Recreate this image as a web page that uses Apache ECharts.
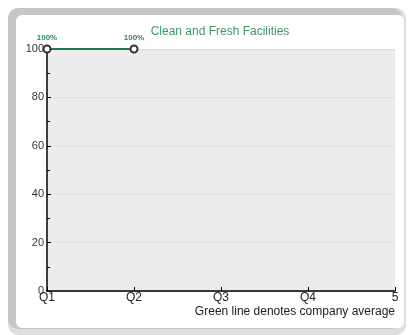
<!DOCTYPE html>
<html>
<head>
<meta charset="utf-8">
<script src="https://cdn.jsdelivr.net/npm/echarts@6/dist/echarts.min.js"></script>
<style>
  html, body { margin: 0; padding: 0; background: #ffffff; }
  #chart { width: 409px; height: 335px; }
</style>
</head>
<body>
<div id="chart"></div>
<script>
// Quarter labels along the x axis
const quarters = ['Q1', 'Q2', 'Q3', 'Q4', '5'];
// Company average score per quarter (percent)
const averageScores = [100, 100];
// Chart text
const chartTitle = 'Clean and Fresh Facilities';
const footnote = 'Green line denotes company average';

const chart = echarts.init(document.getElementById('chart'), null, { renderer: 'canvas' });

chart.setOption({
  animation: false,
  backgroundColor: '#ffffff',
  title: {
    text: chartTitle,
    left: 215,
    top: 21,
    textAlign: 'center',
    textStyle: { fontFamily: 'Liberation Sans, Arial', fontSize: 12, fontWeight: 'normal', color: '#449466' }
  },
  graphic: [
    // panel frame: heavier shade on the top/left, light edge on the right/bottom
    {
      type: 'rect', z: -10, silent: true,
      shape: { x: 8, y: 8, width: 398, height: 327, r: 10 },
      style: { fill: '#dedede' }
    },
    {
      type: 'rect', z: -9, silent: true,
      shape: { x: 8, y: 8, width: 394, height: 321, r: 10 },
      style: { fill: '#c6c6c6' }
    },
    {
      type: 'rect', z: -8, silent: true,
      shape: { x: 16, y: 15, width: 388, height: 313, r: 6 },
      style: { fill: '#ffffff' }
    },
    {
      type: 'text', silent: true,
      style: {
        x: 395, y: 306, text: footnote, align: 'right', verticalAlign: 'top',
        fontFamily: 'Liberation Sans, Arial', fontSize: 12, fill: '#222222'
      }
    }
  ],
  grid: {
    left: 47, right: 14, top: 49, bottom: 44,
    show: true, backgroundColor: '#ececec', borderWidth: 0
  },
  xAxis: {
    type: 'category',
    data: quarters,
    boundaryGap: false,
    axisLine: { lineStyle: { color: '#000000', width: 1.5 } },
    axisTick: { inside: true, length: 4, lineStyle: { color: '#000000' } },
    axisLabel: { margin: 1, fontFamily: 'Liberation Sans, Arial', fontSize: 12, color: '#222222' },
    splitLine: { show: false }
  },
  yAxis: {
    type: 'value',
    min: 0, max: 100, interval: 20,
    axisLine: { show: true, lineStyle: { color: '#000000', width: 1.5 } },
    axisTick: { show: true, inside: true, length: 4, lineStyle: { color: '#000000' } },
    minorTick: { show: true, splitNumber: 2, length: 3, lineStyle: { color: '#000000' } },
    axisLabel: { margin: 3, fontFamily: 'Liberation Sans, Arial', fontSize: 11, color: '#333333' },
    splitLine: { show: true, lineStyle: { color: '#dedede', width: 1 } }
  },
  series: [{
    type: 'line',
    data: averageScores,
    symbol: 'emptyCircle',
    symbolSize: 7,
    lineStyle: { color: '#1f7a4c', width: 2 },
    itemStyle: { color: '#333333', borderWidth: 1 },
    label: {
      show: true, position: 'top', distance: 3,
      formatter: '{c}%',
      fontFamily: 'Liberation Sans, Arial', fontSize: 8, fontWeight: 'bold', color: '#2f8a52'
    }
  }]
});
</script>
</body>
</html>
